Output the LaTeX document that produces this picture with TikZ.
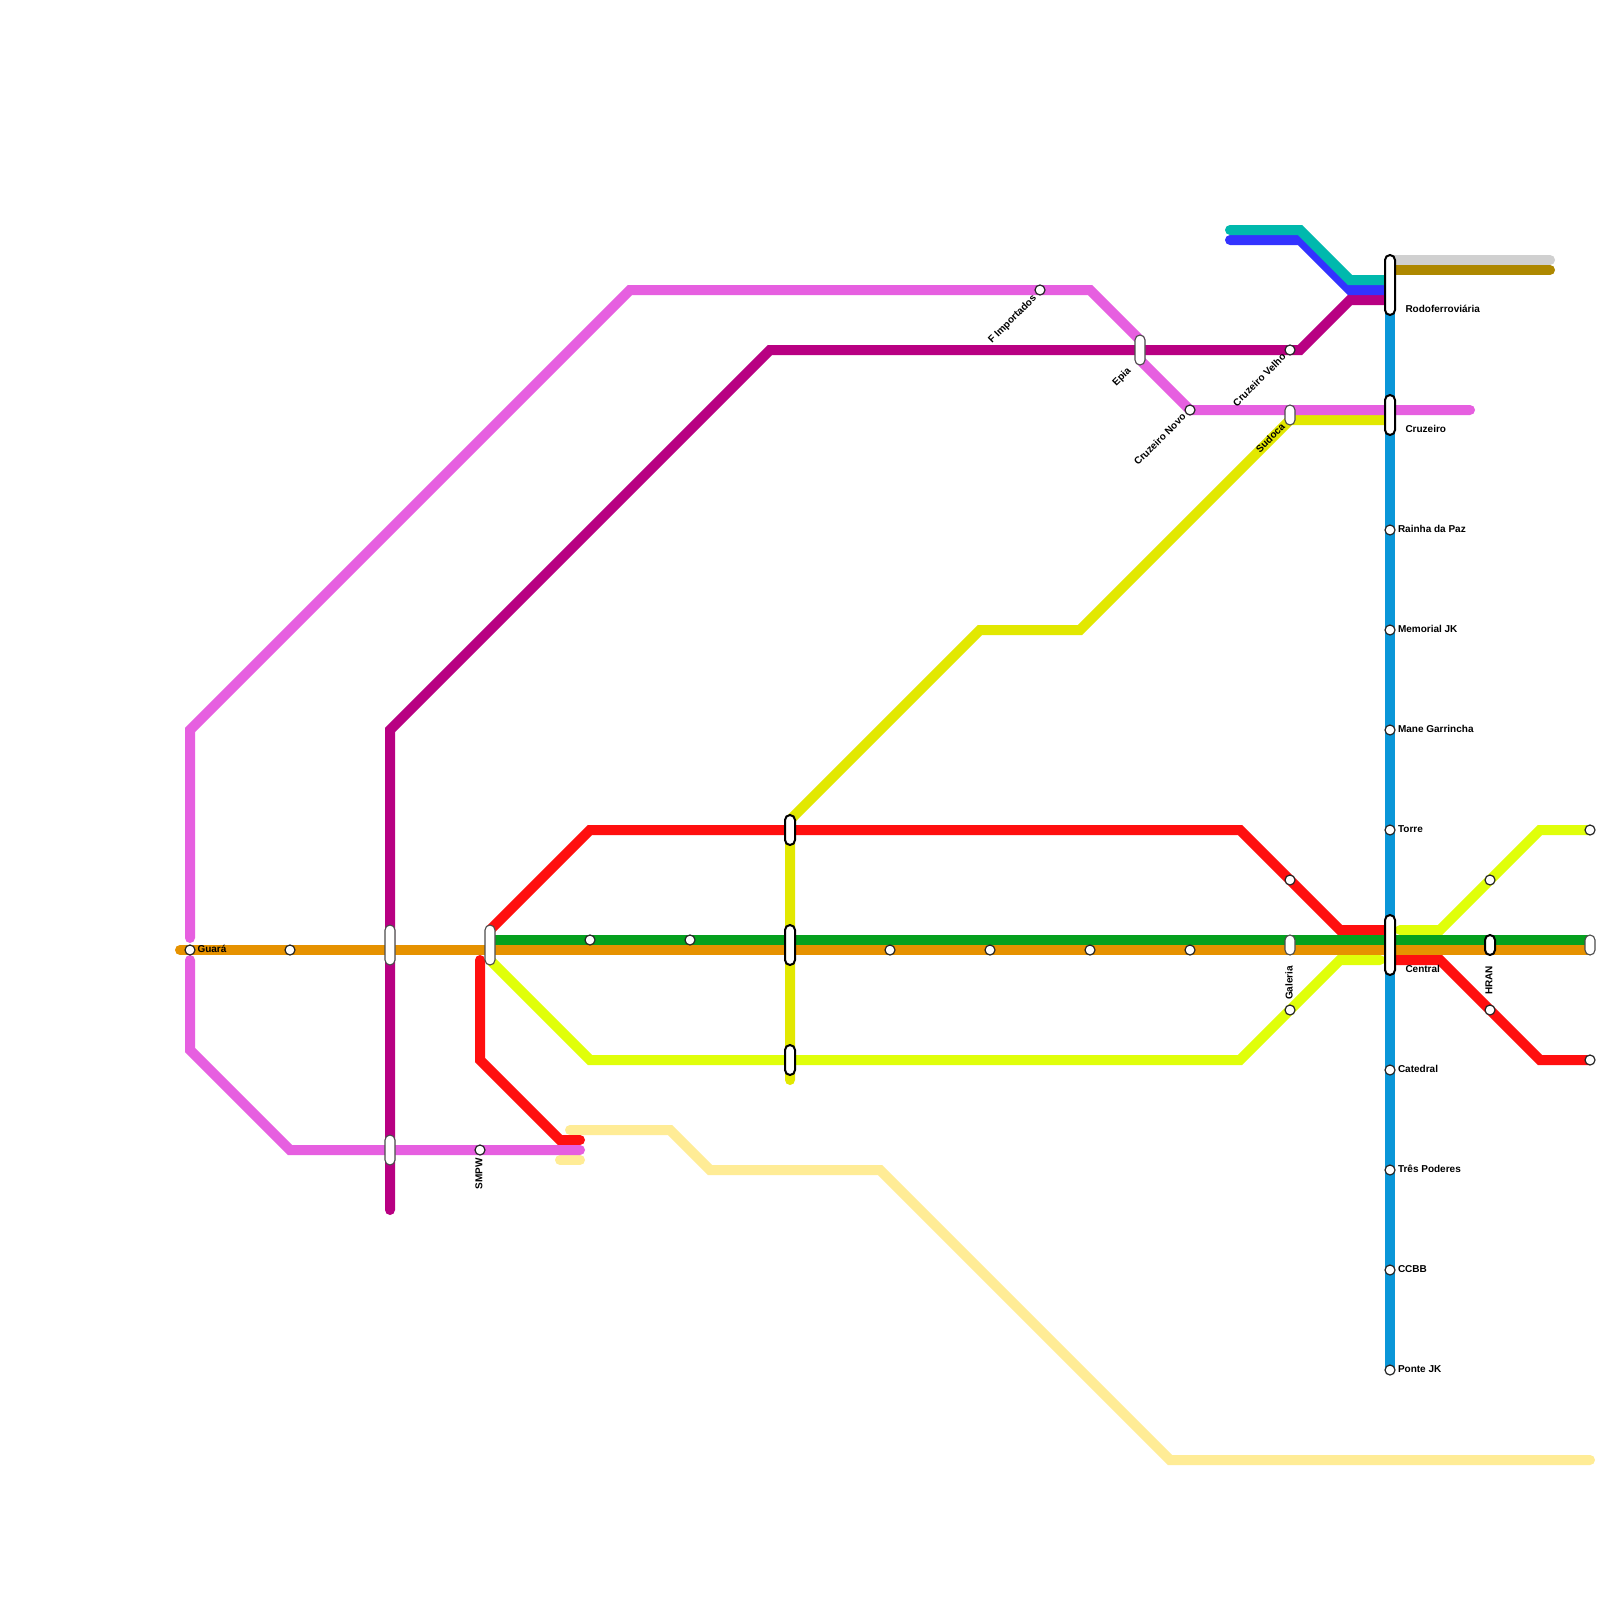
\documentclass[tikz,border=0pt]{standalone}
\usepackage{fontspec}
\setmainfont{Liberation Sans}
\definecolor{cTeal}{HTML}{00B9AD}
\definecolor{cBlue}{HTML}{3333FF}
\definecolor{cMagenta}{HTML}{B80082}
\definecolor{cGray}{HTML}{D0D0D0}
\definecolor{cBrown}{HTML}{AE8800}
\definecolor{cSky}{HTML}{0A96D8}
\definecolor{cPink}{HTML}{E65FE0}
\definecolor{cYellow}{HTML}{E2E800}
\definecolor{cLime}{HTML}{E0FF0A}
\definecolor{cRed}{HTML}{FF0F0F}
\definecolor{cGreen}{HTML}{05A01E}
\definecolor{cOrange}{HTML}{E69200}
\definecolor{cCream}{HTML}{FFEC96}
\tikzset{
  x=1pt,y=-1pt,
  metro/.style={line width=10pt,line cap=round,line join=miter,miter limit=10},
  stop/.style={circle,draw=black!85,fill=white,line width=1.2pt,minimum size=10pt,inner sep=0pt,outer sep=0pt},
  hubthin/.style={rectangle,rounded corners=5pt,draw=black!70,fill=white,line width=1.1pt,minimum width=10pt,inner sep=0pt,outer sep=0pt},
  hubthick/.style={rectangle,rounded corners=5pt,draw=black,fill=white,line width=2pt,minimum width=10pt,inner sep=0pt,outer sep=0pt},
  lbl/.style={font=\fontsize{10}{12}\selectfont\bfseries,inner sep=0pt,outer sep=0pt,text=black},
  lblr/.style={lbl,anchor=west},
  lbld/.style={lbl,anchor=east,rotate=45},
  lblv/.style={lbl,anchor=east,rotate=90},
}
\begin{document}
\begin{tikzpicture}
\useasboundingbox (0,0) rectangle (1600,1600);
\fill[white] (0,0) rectangle (1600,1600);
% waypoints
\coordinate (t1) at (1230,230); \coordinate (t2) at (1300,230); \coordinate (t3) at (1350,280); \coordinate (t4) at (1390,280);
\coordinate (b1) at (1230,240); \coordinate (b2) at (1300,240); \coordinate (b3) at (1350,290); \coordinate (b4) at (1390,290);
\coordinate (m1) at (390,1210); \coordinate (m2) at (390,730); \coordinate (m3) at (770,350); \coordinate (m4) at (1300,350); \coordinate (m5) at (1350,300); \coordinate (m6) at (1390,300);
\coordinate (g1) at (1390,260); \coordinate (g2) at (1550,260);
\coordinate (br1) at (1390,270); \coordinate (br2) at (1550,270);
\coordinate (s1) at (1390,300); \coordinate (s2) at (1390,1370);
\coordinate (p1) at (190,938); \coordinate (p2) at (190,730); \coordinate (p3) at (630,290); \coordinate (p4) at (1090,290); \coordinate (p5) at (1140,340); \coordinate (p6) at (1140,360); \coordinate (p7) at (1190,410); \coordinate (p8) at (1470,410);
\coordinate (q1) at (190,960); \coordinate (q2) at (190,1050); \coordinate (q3) at (290,1150); \coordinate (q4) at (580,1150);
\coordinate (y1) at (1390,420); \coordinate (y2) at (1290,420); \coordinate (y3) at (1080,630); \coordinate (y4) at (980,630); \coordinate (y5) at (790,820); \coordinate (y6) at (790,1080);
\coordinate (l1) at (490,960); \coordinate (l2) at (590,1060); \coordinate (l3) at (1240,1060); \coordinate (l4) at (1340,960); \coordinate (l5) at (1380,960);
\coordinate (k1) at (1400,930); \coordinate (k2) at (1440,930); \coordinate (k3) at (1540,830); \coordinate (k4) at (1590,830);
\coordinate (r1) at (490,930); \coordinate (r2) at (590,830); \coordinate (r3) at (1240,830); \coordinate (r4) at (1340,930); \coordinate (r5) at (1390,930);
\coordinate (w1) at (1390,960); \coordinate (w2) at (1440,960); \coordinate (w3) at (1540,1060); \coordinate (w4) at (1590,1060);
\coordinate (v1) at (480,960); \coordinate (v2) at (480,1060); \coordinate (v3) at (560,1140); \coordinate (v4) at (580,1140);
\coordinate (c1) at (570,1130); \coordinate (c2) at (670,1130); \coordinate (c3) at (710,1170); \coordinate (c4) at (880,1170); \coordinate (c5) at (1170,1460); \coordinate (c6) at (1590,1460);
\coordinate (d1) at (560,1160); \coordinate (d2) at (580,1160);
\coordinate (gr1) at (490,940); \coordinate (gr2) at (1590,940);
\coordinate (o1) at (180,950); \coordinate (o2) at (1590,950);
% lines
\draw[metro,cMagenta] (m1)--(m2)--(m3)--(m4)--(m5)--(m6);
\draw[metro,cBlue] (b1)--(b2)--(b3)--(b4);
\draw[metro,cTeal] (t1)--(t2)--(t3)--(t4);
\draw[metro,cGray] (g1)--(g2);
\draw[metro,cBrown] (br1)--(br2);
\draw[metro,cSky] (s1)--(s2);
\draw[metro,cCream] (c1)--(c2)--(c3)--(c4)--(c5)--(c6);
\draw[metro,cCream] (d1)--(d2);
\draw[metro,cYellow] (y1)--(y2)--(y3)--(y4)--(y5)--(y6);
\draw[metro,cLime] (l1)--(l2)--(l3)--(l4)--(l5);
\draw[metro,cLime] (k1)--(k2)--(k3)--(k4);
\draw[metro,cRed] (r1)--(r2)--(r3)--(r4)--(r5);
\draw[metro,cRed] (w1)--(w2)--(w3)--(w4);
\draw[metro,cRed] (v1)--(v2)--(v3)--(v4);
\draw[metro,cPink] (p1)--(p2)--(p3)--(p4)--(p5)--(p6)--(p7)--(p8);
\draw[metro,cPink] (q1)--(q2)--(q3)--(q4);
\draw[metro,cGreen] (gr1)--(gr2);
\draw[metro,cOrange] (o1)--(o2);
% hubs
\node[hubthick,minimum height=60pt] (rodo) at (1390,285) {};
\node[hubthick,minimum height=40pt] (cruz) at (1390,415) {};
\node[hubthick,minimum height=60pt] (cent) at (1390,945) {};
\node[hubthick,minimum height=30pt] (h790a) at (790,830) {};
\node[hubthick,minimum height=40pt] (h790b) at (790,945) {};
\node[hubthick,minimum height=30pt] (h790c) at (790,1060) {};
\node[hubthick,minimum height=20pt] (hran) at (1490,945) {};
\node[hubthin,minimum height=20pt] (sud) at (1290,415) {};
\node[hubthin,minimum height=30pt] (epia) at (1140,350) {};
\node[hubthin,minimum height=40pt] (h390a) at (390,945) {};
\node[hubthin,minimum height=30pt] (h390b) at (390,1150) {};
\node[hubthin,minimum height=40pt] (h490) at (490,945) {};
\node[hubthin,minimum height=20pt] (gal) at (1290,945) {};
\node[hubthin,minimum height=20pt] (east) at (1590,945) {};
% stops
\node[stop] (guara) at (190,950) {};
\node[stop] (a290) at (290,950) {};
\node[stop] (smpw) at (480,1150) {};
\node[stop] (a590) at (590,940) {};
\node[stop] (a690) at (690,940) {};
\node[stop] (a890) at (890,950) {};
\node[stop] (a990) at (990,950) {};
\node[stop] (a1090) at (1090,950) {};
\node[stop] (a1190) at (1190,950) {};
\node[stop] (fimp) at (1040,290) {};
\node[stop] (cnovo) at (1190,410) {};
\node[stop] (cvelho) at (1290,350) {};
\node[stop] (rp) at (1390,530) {};
\node[stop] (mjk) at (1390,630) {};
\node[stop] (mg) at (1390,730) {};
\node[stop] (tor) at (1390,830) {};
\node[stop] (cat) at (1390,1070) {};
\node[stop] (tp) at (1390,1170) {};
\node[stop] (ccbb) at (1390,1270) {};
\node[stop] (pjk) at (1390,1370) {};
\node[stop] (a1290a) at (1290,880) {};
\node[stop] (a1290b) at (1290,1010) {};
\node[stop] (a1490a) at (1490,880) {};
\node[stop] (a1490b) at (1490,1010) {};
\node[stop] (e830) at (1590,830) {};
\node[stop] (e1060) at (1590,1060) {};
% labels
\node[lblr] (tRodo) at (1405.5,309) {Rodoferroviária};
\node[lblr] (tCruz) at (1405.5,429) {Cruzeiro};
\node[lblr] (tCent) at (1405.5,969) {Central};
\node[lblr] (tRp) at (1398,529) {Rainha da Paz};
\node[lblr] (tMjk) at (1398,629) {Memorial JK};
\node[lblr] (tMg) at (1398,729) {Mane Garrincha};
\node[lblr] (tTor) at (1398,829) {Torre};
\node[lblr] (tCat) at (1398,1069) {Catedral};
\node[lblr] (tTp) at (1398,1169) {Três Poderes};
\node[lblr] (tCcbb) at (1398,1269) {CCBB};
\node[lblr] (tPjk) at (1398,1369) {Ponte JK};
\node[lblr] (tGuara) at (197.5,949) {Guará};
\node[lblv] (tSmpw) at (479,1158) {SMPW};
\node[lblv] (tGal) at (1289,966) {Galeria};
\node[lblv] (tHran) at (1489,966) {HRAN};
\node[lbld] (tFimp) at (1035,297) {F Importados};
\node[lbld] (tEpia) at (1129.5,369.5) {Epia};
\node[lbld] (tNovo) at (1184,415) {Cruzeiro Novo};
\node[lbld] (tVelho) at (1284,355) {Cruzeiro Velho};
\node[lbld] (tSud) at (1283,425) {Sudoca};
\end{tikzpicture}
\end{document}
